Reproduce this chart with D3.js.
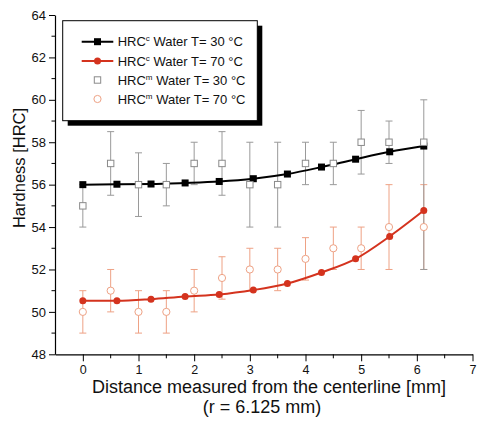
<!DOCTYPE html>
<html>
<head>
<meta charset="utf-8">
<script src="https://cdn.jsdelivr.net/npm/d3@7"></script>
<style>
  body { margin: 0; background: #fff; }
  svg { display: block; font-family: "Liberation Sans", Arial, sans-serif; }
</style>
</head>
<body>
<svg id="chart" width="477" height="421"></svg>
<script>
// computed hardness (lines), x = i * r/10
const calcX = [0, 0.6125, 1.225, 1.8375, 2.45, 3.0625, 3.675, 4.2875, 4.9, 5.5125, 6.125];
const calc30 = [56.0, 56.02, 56.03, 56.08, 56.15, 56.28, 56.5, 56.83, 57.2, 57.55, 57.82];
const calc70 = [50.52, 50.52, 50.6, 50.73, 50.82, 51.03, 51.34, 51.86, 52.5, 53.56, 54.78];

// measured hardness with error bars
const measX = [0, 0.5, 1, 1.5, 2, 2.5, 3, 3.5, 4, 4.5, 5, 5.5, 6.125];
const meas30 = [55, 57, 56, 56, 57, 57, 56, 56, 57, 57, 58, 58, 58];
const meas30Lo = [1, 1.5, 1.5, 1, 1, 1.5, 2, 2, 1, 1, 1.5, 1, 6];
const meas30Hi = [1, 1.5, 1.5, 1, 1, 1.5, 2, 2, 1, 1, 1.5, 1, 2];
const meas70 = [50, 51, 50, 50, 51, 51.6, 52, 52, 52.5, 53, 53, 54, 54];
const meas70Err = [1, 1, 1, 1, 1, 1, 1, 1, 1, 1, 1, 2, 2];

const xTicks = [0, 1, 2, 3, 4, 5, 6, 7];
const xMinor = [0.5, 1.5, 2.5, 3.5, 4.5, 5.5, 6.5];
const yTicks = [48, 50, 52, 54, 56, 58, 60, 62, 64];
const yMinor = [49, 51, 53, 55, 57, 59, 61, 63];

const legendItems = [
    {sup: 'c', label: ' Water T= 30 °C', kind: 'line30'},
    {sup: 'c', label: ' Water T= 70 °C', kind: 'line70'},
    {sup: 'm', label: ' Water T= 30 °C', kind: 'pt30'},
    {sup: 'm', label: ' Water T= 70 °C', kind: 'pt70'}
];

const black = '#000', red = '#d4331e', gray = '#9a9a9a', grayMark = '#8a8a8a', orange = '#eea285';

const svg = d3.select('#chart');
const x = d3.scaleLinear().domain([-0.5, 7]).range([55, 472.5]);
const y = d3.scaleLinear().domain([48, 64]).range([354.3, 15]);

// axes
const xAxis = svg.append('g')
    .attr('transform', `translate(0,${y(48)})`)
    .call(d3.axisBottom(x).tickValues(xTicks).tickSize(7).tickPadding(4).tickSizeOuter(0));
xAxis.selectAll('.tick').filter(d => d === 7).select('line');
xAxis.selectAll('text').attr('font-size', 12.5).attr('fill', '#111');
xAxis.append('g').selectAll('line').data(xMinor).join('line')
    .attr('x1', d => x(d)).attr('x2', d => x(d))
    .attr('y1', 0).attr('y2', 4).attr('stroke', '#000');

const yAxis = svg.append('g')
    .attr('transform', `translate(${x(-0.5)},0)`)
    .call(d3.axisLeft(y).tickValues(yTicks).tickSize(6).tickPadding(3).tickSizeOuter(0));
yAxis.selectAll('text').attr('font-size', 13).attr('fill', '#111');
yAxis.append('g').selectAll('line').data(yMinor).join('line')
    .attr('x1', 0).attr('x2', -3.5)
    .attr('y1', d => y(d)).attr('y2', d => y(d)).attr('stroke', '#000');
svg.selectAll('.domain').attr('stroke', '#000').attr('stroke-width', 1.2);

// axis titles
svg.append('text')
    .attr('x', 269).attr('y', 393)
    .attr('text-anchor', 'middle').attr('font-size', 18).attr('fill', '#111')
    .text('Distance measured from the centerline [mm]');
svg.append('text')
    .attr('x', 262).attr('y', 413)
    .attr('text-anchor', 'middle').attr('font-size', 18).attr('fill', '#111')
    .text('(r = 6.125 mm)');
svg.append('text')
    .attr('transform', 'translate(25,168) rotate(-90)')
    .attr('text-anchor', 'middle').attr('font-size', 16.5).attr('fill', '#111')
    .text('Hardness [HRC]');

// error bars
function errorBars(xs, ys, lo, hi, color) {
    const g = svg.append('g').attr('stroke', color).attr('stroke-width', 1);
    const cap = 3.5;
    xs.forEach((xv, i) => {
        const px = x(xv), top = y(ys[i] + hi[i]), bot = y(ys[i] - lo[i]);
        g.append('line').attr('x1', px).attr('x2', px).attr('y1', top).attr('y2', bot);
        g.append('line').attr('x1', px - cap).attr('x2', px + cap).attr('y1', top).attr('y2', top);
        g.append('line').attr('x1', px - cap).attr('x2', px + cap).attr('y1', bot).attr('y2', bot);
    });
}
errorBars(measX, meas70, meas70Err, meas70Err, orange);
errorBars(measX, meas30, meas30Lo, meas30Hi, gray);

// lines
const line = d3.line().x(d => x(d[0])).y(d => y(d[1])).curve(d3.curveMonotoneX);
svg.append('path').datum(calcX.map((v, i) => [v, calc30[i]]))
    .attr('d', line).attr('fill', 'none').attr('stroke', black).attr('stroke-width', 2);
svg.append('path').datum(calcX.map((v, i) => [v, calc70[i]]))
    .attr('d', line).attr('fill', 'none').attr('stroke', red).attr('stroke-width', 2);

svg.append('g').selectAll('rect').data(calcX).join('rect')
    .attr('x', d => x(d) - 3.5).attr('y', (d, i) => y(calc30[i]) - 3.5)
    .attr('width', 7).attr('height', 7).attr('fill', black);
svg.append('g').selectAll('circle').data(calcX).join('circle')
    .attr('cx', d => x(d)).attr('cy', (d, i) => y(calc70[i]))
    .attr('r', 3.5).attr('fill', red);

// measured markers
svg.append('g').selectAll('rect').data(measX).join('rect')
    .attr('x', d => x(d) - 3.2).attr('y', (d, i) => y(meas30[i]) - 3.2)
    .attr('width', 6.4).attr('height', 6.4)
    .attr('fill', '#fff').attr('stroke', grayMark).attr('stroke-width', 1);
svg.append('g').selectAll('circle').data(measX).join('circle')
    .attr('cx', d => x(d)).attr('cy', (d, i) => y(meas70[i]))
    .attr('r', 3.6).attr('fill', '#fff').attr('stroke', orange).attr('stroke-width', 1);

// legend
const lg = svg.append('g');
lg.append('rect').attr('x', 67.7).attr('y', 25.7).attr('width', 194.6).attr('height', 100).attr('fill', '#000');
lg.append('rect').attr('x', 62.7).attr('y', 20.7).attr('width', 194.6).attr('height', 100)
    .attr('fill', '#fff').attr('stroke', '#000').attr('stroke-width', 1);
const rowY = [41.7, 61, 80, 99];
legendItems.forEach((it, i) => {
    const cy = rowY[i];
    const row = lg.append('g');
    if (it.kind === 'line30' || it.kind === 'line70') {
        const c = it.kind === 'line30' ? black : red;
        row.append('line').attr('x1', 81.7).attr('x2', 113.3).attr('y1', cy).attr('y2', cy)
            .attr('stroke', c).attr('stroke-width', 2);
        if (it.kind === 'line30') {
            row.append('rect').attr('x', 94).attr('y', cy - 3.5).attr('width', 7).attr('height', 7).attr('fill', c);
        } else {
            row.append('circle').attr('cx', 97.5).attr('cy', cy).attr('r', 3.5).attr('fill', c);
        }
    } else if (it.kind === 'pt30') {
        row.append('rect').attr('x', 94.3).attr('y', cy - 3.2).attr('width', 6.4).attr('height', 6.4)
            .attr('fill', '#fff').attr('stroke', grayMark);
    } else {
        row.append('circle').attr('cx', 97.5).attr('cy', cy).attr('r', 3.6)
            .attr('fill', '#fff').attr('stroke', orange);
    }
    const t = row.append('text').attr('x', 117.7).attr('y', cy + 4.7).attr('font-size', 13).attr('fill', '#111');
    t.append('tspan').text('HRC');
    t.append('tspan').attr('font-size', 8).attr('dy', -5).text(it.sup);
    t.append('tspan').attr('dy', 5).text(it.label);
});
</script>
</body>
</html>
